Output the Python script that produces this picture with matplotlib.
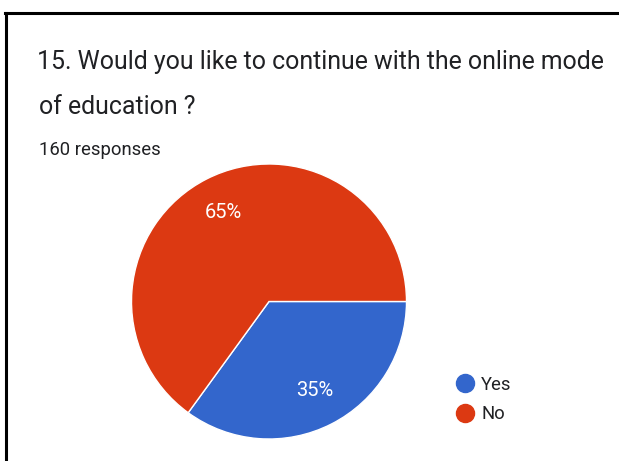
import matplotlib.pyplot as plt
from matplotlib.lines import Line2D

plt.rcParams['font.family'] = ['Roboto', 'DejaVu Sans']

# survey answers
labels = ['Yes', 'No']
shares = [35, 65]
colors = ['#3366cc', '#dc3912']
title_lines = ['15. Would you like to continue with the online mode', 'of education ?']
responses = '160 responses'

W, H = 619, 461
fig = plt.figure(figsize=(W / 100, H / 100), dpi=100)
fig.patch.set_facecolor('white')

def fx(px):
    return px / W

def fy(py):
    return 1 - py / H

# card border (top and left edges only)
fig.add_artist(Line2D([fx(5), 1], [fy(13), fy(13)], color='black', lw=2.2))
fig.add_artist(Line2D([fx(6), fx(6)], [fy(13), 0], color='black', lw=2.2))

fig.text(fx(37), fy(69), title_lines[0], fontsize=17.9, color='#202124', va='baseline')
fig.text(fx(39), fy(114), title_lines[1], fontsize=17.9, color='#202124', va='baseline')
fig.text(fx(39), fy(155), responses, fontsize=13.3, color='#202124', va='baseline')

# pie
cx, cy, r = 269, 301.5, 137.5
ax = fig.add_axes([fx(cx - r), fy(cy + r), 2 * r / W, 2 * r / H])
wedges, texts, autotexts = ax.pie(shares, colors=colors, startangle=0, counterclock=False,
                                  autopct='%d%%', pctdistance=0.73,
                                  wedgeprops=dict(edgecolor='white', linewidth=1),
                                  textprops=dict(color='white', fontsize=14.5))
ax.set_xlim(-1, 1)
ax.set_ylim(-1, 1)
ax.set_aspect('equal')

handles = [Line2D([], [], marker='o', ls='', markersize=13, color=c) for c in colors]
fig.legend(handles, labels, loc='center left', bbox_to_anchor=(fx(445), fy(399.5)),
           frameon=False, fontsize=13.3, handletextpad=0.25, labelspacing=0.6,
           handlelength=1.2, borderpad=0, labelcolor='#202124')

fig.savefig('out.png', dpi=100)
